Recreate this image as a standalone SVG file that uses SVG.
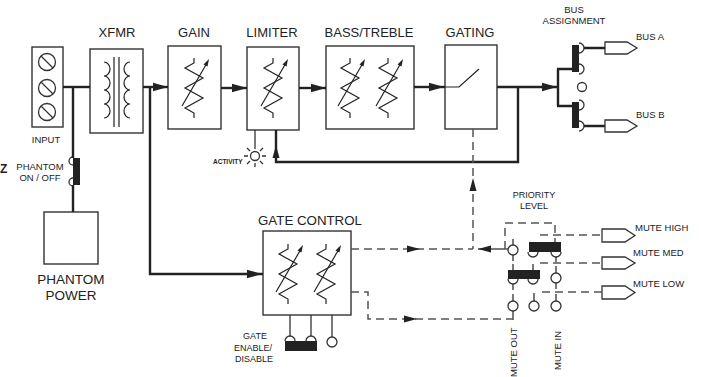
<svg xmlns="http://www.w3.org/2000/svg" xmlns:xlink="http://www.w3.org/1999/xlink" width="701" height="377" viewBox="0 0 701 377">
<style>
text{font-family:"Liberation Sans",Arial,sans-serif;fill:#222}
.t13{font-size:13px;text-anchor:middle}
.t9{font-size:9.5px}
.box{fill:#fff;stroke:#333;stroke-width:1.4}
.sig{fill:none;stroke:#222;stroke-width:2.4}
.thin{fill:none;stroke:#333;stroke-width:1.3}
.dash{fill:none;stroke:#555;stroke-width:1.5;stroke-dasharray:8 5}
.sym{fill:none;stroke:#222;stroke-width:1.2}
.bar{fill:#222}
.ah{fill:#222}
</style>
<defs>
<path id="ahL" d="M0,0 L-15,-4.2 L-15,4.2 Z"/>
<path id="ahS" d="M0,0 L-13,-3.5 L-13,3.5 Z"/>
<g id="res">
<path class="sym" d="M0,-30 V-25 L-9,-20 L9,-10 L-9,0 L9,10 L-9,20 L0,25 V30"/>
<path class="sym" d="M-12,18 L13,-25"/>
<path fill="#222" d="M15,-29 L9.5,-23.5 L13.5,-21.5 Z"/>
</g>
</defs>

<g id="input">
<rect class="box" x="32" y="47" width="31" height="80"/>
<circle class="thin" cx="47" cy="62" r="8.5"/><path class="thin" d="M41,56 L53,68"/>
<circle class="thin" cx="47" cy="88" r="8.5"/><path class="thin" d="M41,82 L53,94"/>
<circle class="thin" cx="47" cy="112" r="8.5"/><path class="thin" d="M41,106 L53,118"/>
<text class="t9" x="46" y="143" text-anchor="middle">INPUT</text>
</g>

<g id="xfmr">
<text class="t13" x="117" y="37">XFMR</text>
<rect class="box" x="90" y="49" width="53" height="84"/>
<path class="sym" d="M114,57 V127 M119,57 V127"/>
<path class="sym" d="M104,62 A6,7 0 0 1 104,76 A6,7 0 0 1 104,90 A6,7 0 0 1 104,104 A6,7 0 0 1 104,118"/>
<path class="sym" d="M130,62 A6,7 0 0 0 130,76 A6,7 0 0 0 130,90 A6,7 0 0 0 130,104 A6,7 0 0 0 130,118"/>
</g>

<g id="gain">
<text class="t13" x="194" y="37">GAIN</text>
<rect class="box" x="168" y="46" width="53" height="83"/>
<use xlink:href="#res" transform="translate(194,88)"/>
</g>

<g id="limiter">
<text class="t13" x="272" y="37">LIMITER</text>
<rect class="box" x="247" y="47" width="52" height="83"/>
<use xlink:href="#res" transform="translate(273,88)"/>
</g>

<g id="bass-treble">
<text class="t13" x="369" y="37">BASS/TREBLE</text>
<rect class="box" x="326" y="46" width="88" height="83"/>
<use xlink:href="#res" transform="translate(350,88)"/>
<use xlink:href="#res" transform="translate(388,88)"/>
</g>

<g id="gating">
<text class="t13" x="470" y="37">GATING</text>
<rect class="box" x="445" y="45" width="52" height="84"/>
<path class="sym" d="M445,87 H459 L479,69"/>
</g>

<g id="bus-assignment">
<text class="t9" x="574" y="13" text-anchor="middle">BUS</text>
<text class="t9" x="574" y="24" text-anchor="middle">ASSIGNMENT</text>
<rect class="bar" x="572" y="45" width="7" height="27"/>
<rect class="bar" x="572" y="102" width="7" height="26"/>
<path class="thin" d="M579,43 A5,5 0 0 1 579,53 M579,64 A5,5 0 0 1 579,74 M579,100 A5,5 0 0 1 579,110 M579,121 A5,5 0 0 1 579,131"/>
<circle class="thin" cx="582" cy="87" r="4.5"/>
<path class="sig" d="M584,48 H605 M584,126 H605" stroke-width="2"/>
</g>

<g id="bus-a">
<path class="thin" d="M605,42 H627 L637,48 L627,54 H605 Z" fill="#fff"/>
<text class="t9" x="636" y="40">BUS A</text>
</g>
<g id="bus-b">
<path class="thin" d="M605,120 H627 L637,126 L627,132 H605 Z" fill="#fff"/>
<text class="t9" x="636" y="118">BUS B</text>
</g>

<g id="phantom-switch">
<rect class="bar" x="73" y="158" width="7" height="27"/>
<path class="thin" d="M73,157 A4,4 0 0 0 73,165 M73,178 A4,4 0 0 0 73,186"/>
<text class="t9" x="40" y="170" text-anchor="middle">PHANTOM</text>
<text class="t9" x="40" y="181" text-anchor="middle">ON / OFF</text>
<text x="0" y="173" style="font-size:12px;font-weight:bold">Z</text>
</g>

<g id="phantom-power">
<rect class="box" x="44" y="212" width="54" height="52"/>
<text x="71" y="284" style="font-size:13.5px;text-anchor:middle">PHANTOM</text>
<text x="71" y="300" style="font-size:13.5px;text-anchor:middle">POWER</text>
</g>

<g id="activity">
<circle class="thin" cx="255" cy="156" r="4.5" stroke-width="1"/>
<path class="thin" stroke-width="1" d="M255,149 V145 M255,163 V167 M248,156 H244 M262,156 H266 M250,151 L247,148 M260,151 L263,148 M250,161 L247,164 M260,161 L263,164"/>
<text x="213" y="164" style="font-size:6.5px;font-weight:bold">ACTIVITY</text>
</g>

<g id="gate-control">
<text x="310" y="225" style="font-size:13.3px;text-anchor:middle">GATE CONTROL</text>
<rect class="box" x="263" y="231" width="88" height="84"/>
<use xlink:href="#res" transform="translate(288,274)"/>
<use xlink:href="#res" transform="translate(326,274)"/>
</g>

<g id="gate-enable">
<path class="thin" d="M290,315 V336 M311,315 V336 M332,315 V337"/>
<path class="thin" fill="#fff" d="M285,341 A5,5 0 0 1 295,341 M306,341 A5,5 0 0 1 316,341"/>
<rect class="bar" x="285" y="341" width="32" height="10"/>
<circle class="thin" cx="332" cy="342" r="5"/>
<text class="t9" x="255" y="339" text-anchor="middle" style="font-size:9px">GATE</text>
<text class="t9" x="253" y="351" text-anchor="middle" style="font-size:9px">ENABLE/</text>
<text class="t9" x="254" y="362" text-anchor="middle" style="font-size:9px">DISABLE</text>
</g>

<g id="priority">
<text x="534" y="198" style="font-size:9px;text-anchor:middle">PRIORITY</text>
<text x="534" y="209" style="font-size:9px;text-anchor:middle">LEVEL</text>
<rect class="bar" x="529" y="242" width="32" height="10"/>
<rect class="bar" x="508" y="270" width="32" height="9"/>
<path class="thin" fill="#fff" d="M528,252 A5,5 0 0 0 538,252 M551,252 A5,5 0 0 0 561,252 M508,279 A5,5 0 0 0 518,279 M528,279 A5,5 0 0 0 538,279"/>
<circle class="thin" cx="513" cy="250" r="5"/>
<circle class="thin" cx="556" cy="278" r="5"/>
<circle class="thin" cx="513" cy="306" r="5"/>
<circle class="thin" cx="534" cy="306" r="5"/>
<circle class="thin" cx="556" cy="306" r="5"/>
<path class="thin" d="M513,239 V245 M513,255 V261 M513,264 V270 M533,264 V270 M556,257 V262 M556,266 V273 M556,283 V289 M513,284 V290 M513,294 V301 M534,293 V301 M556,294 V301 M513,311 V320"/>
<text class="t9" transform="translate(517,377) rotate(-90)">MUTE OUT</text>
<text class="t9" transform="translate(561,370) rotate(-90)">MUTE IN</text>
</g>

<g id="mute-high">
<path class="thin" d="M602,229 H625 L635,235.5 L625,242 H602 Z" fill="#fff"/>
<text class="t9" x="635" y="231">MUTE HIGH</text>
</g>
<g id="mute-med">
<path class="thin" d="M602,257 H625 L635,263 L625,269 H602 Z" fill="#fff"/>
<text class="t9" x="633" y="256">MUTE MED</text>
</g>
<g id="mute-low">
<path class="thin" d="M602,286 H625 L635,292.5 L625,299 H602 Z" fill="#fff"/>
<text class="t9" x="633" y="287">MUTE LOW</text>
</g>

<g id="connectors">
<path class="sig" d="M63,87 H90" stroke-width="2"/>
<path class="sig" d="M73,87 V158 M73,185 V212" stroke-width="2"/>
<path class="sig" d="M143,87 H168"/>
<use xlink:href="#ahL" class="ah" transform="translate(168,87)"/>
<path class="sig" d="M150,87 V274 H263" stroke-width="2"/>
<use xlink:href="#ahL" class="ah" transform="translate(262,274)"/>
<path class="sig" d="M221,88 H247"/>
<use xlink:href="#ahL" class="ah" transform="translate(247,88)"/>
<path class="sig" d="M299,88 H326"/>
<use xlink:href="#ahL" class="ah" transform="translate(326,88)"/>
<path class="sig" d="M414,87 H445" stroke-width="3"/>
<use xlink:href="#ahL" class="ah" transform="translate(444,87)"/>
<path class="sig" d="M497,87 H558"/>
<use xlink:href="#ahL" class="ah" transform="translate(557,87)"/>
<path class="sig" d="M558,69 V106 M557,69 H572 M557,106 H572" stroke-width="2.6"/>
<path class="sig" d="M518,87 V162 H276 V130"/>
<use xlink:href="#ahS" class="ah" transform="translate(276,145) rotate(-90)"/>
<path class="thin" d="M255,130 V145"/>
<path class="dash" d="M473,129 V249"/>
<use xlink:href="#ahS" class="ah" transform="translate(473,178) rotate(-90)"/>
<path class="dash" d="M351,249 H473"/>
<use xlink:href="#ahS" class="ah" transform="translate(420,249)"/>
<path class="thin" d="M478,249 H508"/>
<use xlink:href="#ahS" class="ah" transform="translate(478,249) rotate(180)"/>
<path class="dash" d="M505,249 V223 H555 V242"/>
<path class="dash" d="M351,292 H368 V319 H513"/>
<use xlink:href="#ahS" class="ah" transform="translate(417,319)"/>
<path class="dash" d="M540,235 H602 M540,263 H602 M542,292 H602"/>
</g>
</svg>
